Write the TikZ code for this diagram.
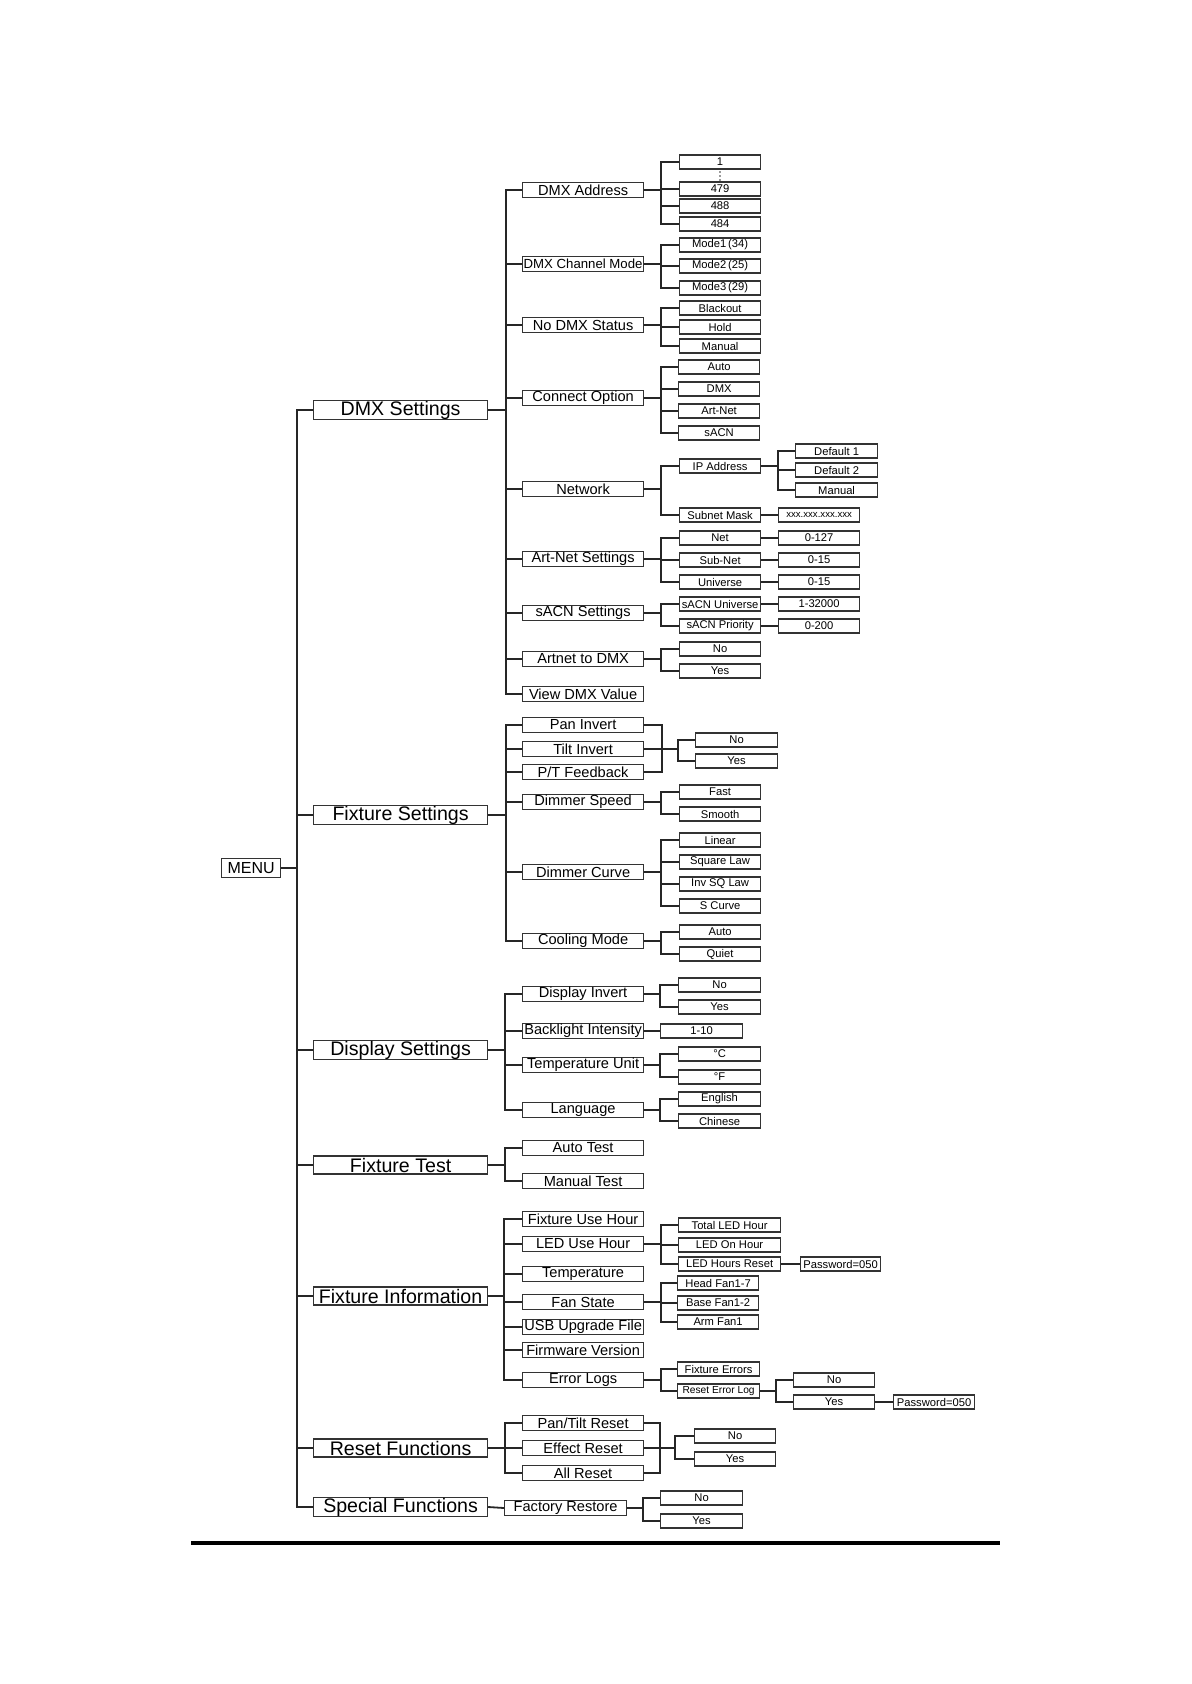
\documentclass[tikz,border=0pt]{standalone}
\usepackage{fontspec}
\setmainfont{Liberation Sans}
\usetikzlibrary{calc}
\tikzset{
  bx/.style={draw=black!80, line width=0.6pt, inner sep=0pt, fill=white},
  lzero/.style={bx, minimum height=9.5pt, font=\fontsize{8}{9}\selectfont},
  lone/.style={bx, minimum height=9pt, font=\fontsize{9.8}{10}\selectfont},
  ltwo/.style={bx, minimum height=7.5pt, font=\fontsize{7.3}{8}\selectfont},
  lthree/.style={bx, minimum height=7pt, font=\fontsize{5.6}{6}\selectfont},
  conn/.style={line width=0.9pt, black!85},
}
\newcommand{\mybox}[6]{\node[#1, minimum width={(#4-#3)*0.5pt}, anchor=west] (#2) at (#3,#5) {#6};}
\newcommand{\mytree}[3]{\foreach \c in {#3} {\draw[conn] (#1.east) -- +(#2,0) |- (\c.west);}}
\newcommand{\mylink}[2]{\draw[conn] (#1.east) -- (#2.west);}
\begin{document}
\begin{tikzpicture}[x=0.5pt,y=-0.5pt]
\useasboundingbox (0,0) rectangle (1191,1684);
% level 0
\mybox{lzero}{menu}{221}{280}{868}{MENU}
% level 1
\mybox{lone}{dmx}{313}{487}{410}{DMX Settings}
\mybox{lone}{fix}{313}{487}{815}{Fixture Settings}
\mybox{lone}{disp}{313}{487}{1050}{Display Settings}
\mybox{lone}{ftest}{313}{487}{1165}{Fixture Test}
\mybox{lone}{finfo}{313}{487}{1296}{Fixture Information}
\mybox{lone}{reset}{313}{487}{1448}{Reset Functions}
\mybox{lone}{special}{313}{487}{1507}{Special Functions}
% level 2 : DMX
\mybox{ltwo}{dmxaddr}{522}{643}{190}{DMX Address}
\mybox{ltwo,font=\fontsize{6.6}{7}\selectfont}{chmode}{522}{643}{264}{DMX Channel Mode}
\mybox{ltwo}{nodmx}{522}{643}{325}{No DMX Status}
\mybox{ltwo}{conn}{522}{643}{398}{Connect Option}
\mybox{ltwo}{net}{522}{643}{489}{Network}
\mybox{ltwo}{artnet}{522}{643}{559}{Art-Net Settings}
\mybox{ltwo}{sacn}{522}{643}{613}{sACN Settings}
\mybox{ltwo}{a2d}{522}{643}{659}{Artnet to DMX}
\mybox{ltwo}{view}{522}{643}{694}{View DMX Value}
% level 2 : Fixture
\mybox{ltwo}{pan}{522}{643}{725}{Pan Invert}
\mybox{ltwo}{tilt}{522}{643}{749}{Tilt Invert}
\mybox{ltwo}{ptfb}{522}{643}{772}{P/T Feedback}
\mybox{ltwo}{dspeed}{522}{643}{802}{Dimmer Speed}
\mybox{ltwo}{dcurve}{522}{643}{872}{Dimmer Curve}
\mybox{ltwo}{cool}{522}{643}{941}{Cooling Mode}
% level 2 : Display
\mybox{ltwo}{dinv}{522}{643}{994}{Display Invert}
\mybox{ltwo}{back}{522}{643}{1031}{Backlight Intensity}
\mybox{ltwo}{tunit}{522}{643}{1065}{Temperature Unit}
\mybox{ltwo}{lang}{522}{643}{1110}{Language}
% level 2 : Test
\mybox{ltwo}{atest}{522}{643}{1148}{Auto Test}
\mybox{ltwo}{mtest}{522}{643}{1181}{Manual Test}
% level 2 : Info
\mybox{ltwo}{fuse}{522}{643}{1219}{Fixture Use Hour}
\mybox{ltwo}{leduse}{522}{643}{1244}{LED Use Hour}
\mybox{ltwo}{temp}{522}{643}{1274}{Temperature}
\mybox{ltwo}{fan}{522}{643}{1302}{Fan State}
\mybox{ltwo}{usb}{522}{643}{1327}{USB Upgrade File}
\mybox{ltwo}{fw}{522}{643}{1350}{Firmware Version}
\mybox{ltwo}{elog}{522}{643}{1380}{Error Logs}
% level 2 : Reset / Special
\mybox{ltwo}{ptr}{522}{643}{1423}{Pan/Tilt Reset}
\mybox{ltwo}{effr}{522}{643}{1448}{Effect Reset}
\mybox{ltwo}{allr}{522}{643}{1473}{All Reset}
\mybox{ltwo}{frest}{504}{626}{1508}{Factory Restore}
% level 3 : DMX
\mybox{lthree}{a1}{679}{760}{162}{1}
\coordinate (dots) at (720,176);
\foreach \d in {-4,0,4} {\fill[black!80] ($(dots)+(0,\d)$) circle (0.9);}
\mybox{lthree}{a479}{679}{760}{189}{479}
\mybox{lthree}{a488}{679}{760}{206}{488}
\mybox{lthree}{a484}{679}{760}{224}{484}
\mybox{lthree}{m1}{679}{760}{245}{Mode1\,(34)}
\mybox{lthree}{m2}{679}{760}{266}{Mode2\,(25)}
\mybox{lthree}{m3}{679}{760}{288}{Mode3\,(29)}
\mybox{lthree}{bo}{679}{760}{308}{Blackout}
\mybox{lthree}{hold}{679}{760}{327}{Hold}
\mybox{lthree}{man}{679}{760}{346}{Manual}
\mybox{lthree}{cauto}{678}{759}{367}{Auto}
\mybox{lthree}{cdmx}{678}{759}{389}{DMX}
\mybox{lthree}{cart}{678}{759}{411}{Art-Net}
\mybox{lthree}{csacn}{678}{759}{433}{sACN}
\mybox{lthree}{ip}{679}{760}{466}{IP Address}
\mybox{lthree}{subnet}{679}{760}{515}{Subnet Mask}
\mybox{lthree}{d1}{795}{877}{451}{Default 1}
\mybox{lthree}{d2}{795}{877}{470}{Default 2}
\mybox{lthree}{dman}{795}{877}{490}{Manual}
\mybox{lthree,font=\fontsize{4.8}{5}\selectfont}{xxx}{778}{859}{515}{xxx.xxx.xxx.xxx}
\mybox{lthree}{netn}{679}{760}{538}{Net}
\mybox{lthree}{subn}{679}{760}{560}{Sub-Net}
\mybox{lthree}{univ}{679}{760}{582}{Universe}
\mybox{lthree}{vnet}{778}{859}{538}{0-127}
\mybox{lthree}{vsub}{778}{859}{560}{0-15}
\mybox{lthree}{vuni}{778}{859}{582}{0-15}
\mybox{lthree}{sacnu}{679}{760}{604}{sACN Universe}
\mybox{lthree}{sacnp}{679}{760}{626}{sACN Priority}
\mybox{lthree}{vsu}{778}{859}{604}{1-32000}
\mybox{lthree}{vsp}{778}{859}{626}{0-200}
\mybox{lthree}{a2dno}{679}{760}{649}{No}
\mybox{lthree}{a2dyes}{679}{760}{671}{Yes}
% level 3 : Fixture
\mybox{lthree}{ptno}{695}{777}{740}{No}
\mybox{lthree}{ptyes}{695}{777}{761}{Yes}
\mybox{lthree}{fast}{679}{760}{792}{Fast}
\mybox{lthree}{smooth}{679}{760}{814}{Smooth}
\mybox{lthree}{lin}{679}{760}{840}{Linear}
\mybox{lthree}{sq}{679}{760}{862}{Square Law}
\mybox{lthree}{inv}{679}{760}{884}{Inv SQ Law}
\mybox{lthree}{scurve}{679}{760}{906}{S Curve}
\mybox{lthree}{cauto2}{679}{760}{932}{Auto}
\mybox{lthree}{quiet}{679}{760}{954}{Quiet}
% level 3 : Display
\mybox{lthree}{dno}{678}{760}{985}{No}
\mybox{lthree}{dyes}{678}{760}{1007}{Yes}
\mybox{lthree}{b110}{660}{742}{1031}{1-10}
\mybox{lthree}{degc}{678}{760}{1054}{°C}
\mybox{lthree}{degf}{678}{760}{1077}{°F}
\mybox{lthree}{eng}{678}{760}{1099}{English}
\mybox{lthree}{chi}{678}{760}{1121}{Chinese}
% level 3 : Info
\mybox{lthree}{tlh}{678}{780}{1225}{Total LED Hour}
\mybox{lthree}{loh}{678}{780}{1245}{LED On Hour}
\mybox{lthree}{lhr}{678}{780}{1264}{LED Hours Reset}
\mybox{lthree}{pwa}{800}{880}{1264}{Password=050}
\mybox{lthree}{hf}{677}{758}{1283}{Head Fan1-7}
\mybox{lthree}{bf}{677}{758}{1303}{Base Fan1-2}
\mybox{lthree}{af}{677}{758}{1322}{Arm Fan1}
\mybox{lthree}{fe}{677}{759}{1369}{Fixture Errors}
\mybox{lthree,font=\fontsize{5.1}{6}\selectfont}{rel}{677}{759}{1391}{Reset Error Log}
\mybox{lthree}{elno}{793}{874}{1380}{No}
\mybox{lthree}{elyes}{793}{874}{1402}{Yes}
\mybox{lthree}{pwb}{893}{974}{1402}{Password=050}
% level 3 : Reset / Special
\mybox{lthree}{rno}{694}{775}{1436}{No}
\mybox{lthree}{ryes}{694}{775}{1459}{Yes}
\mybox{lthree}{sno}{660}{742}{1498}{No}
\mybox{lthree}{syes}{660}{742}{1521}{Yes}
% connectors
\mytree{menu}{16}{dmx,fix,disp,ftest,finfo,reset,special}
\mytree{dmx}{18}{dmxaddr,chmode,nodmx,conn,net,artnet,sacn,a2d,view}
\mytree{dmxaddr}{17}{a1,a479,a488,a484}
\mytree{chmode}{17}{m1,m2,m3}
\mytree{nodmx}{17}{bo,hold,man}
\mytree{conn}{17}{cauto,cdmx,cart,csacn}
\mytree{net}{17}{ip,subnet}
\mytree{ip}{17}{d1,d2,dman}
\mylink{subnet}{xxx}
\mytree{artnet}{17}{netn,subn,univ}
\mylink{netn}{vnet}
\mylink{subn}{vsub}
\mylink{univ}{vuni}
\mytree{sacn}{17}{sacnu,sacnp}
\mylink{sacnu}{vsu}
\mylink{sacnp}{vsp}
\mytree{a2d}{17}{a2dno,a2dyes}
\mytree{fix}{18}{pan,tilt,ptfb,dspeed,dcurve,cool}
\coordinate (ptb) at ($(tilt.east)+(18,0)$);
\draw[conn] (pan.east) -| (ptb);
\draw[conn] (ptfb.east) -| (ptb);
\draw[conn] (tilt.east) -- (ptb);
\foreach \c in {ptno,ptyes} {\draw[conn] (ptb) -- +(16,0) |- (\c.west);}
\mytree{dspeed}{17}{fast,smooth}
\mytree{dcurve}{17}{lin,sq,inv,scurve}
\mytree{cool}{17}{cauto2,quiet}
\mytree{disp}{17}{dinv,back,tunit,lang}
\mytree{dinv}{16}{dno,dyes}
\mylink{back}{b110}
\mytree{tunit}{16}{degc,degf}
\mytree{lang}{16}{eng,chi}
\mytree{ftest}{17}{atest,mtest}
\mytree{finfo}{16}{fuse,leduse,temp,fan,usb,fw,elog}
\mytree{leduse}{17}{tlh,loh,lhr}
\mylink{lhr}{pwa}
\mytree{fan}{17}{hf,bf,af}
\mytree{elog}{17}{fe,rel}
\mytree{rel}{16}{elno,elyes}
\mylink{elyes}{pwb}
\mytree{reset}{17}{ptr,effr,allr}
\coordinate (rsb) at ($(effr.east)+(16,0)$);
\draw[conn] (ptr.east) -| (rsb);
\draw[conn] (allr.east) -| (rsb);
\draw[conn] (effr.east) -- (rsb);
\foreach \c in {rno,ryes} {\draw[conn] (rsb) -- +(15,0) |- (\c.west);}
\mylink{special}{frest}
\mytree{frest}{16}{sno,syes}
% bottom rule
\coordinate (rulea) at (191,1543);
\coordinate (ruleb) at (1000,1543);
\draw[line width=1.6pt] (rulea) -- (ruleb);
\end{tikzpicture}
\end{document}
